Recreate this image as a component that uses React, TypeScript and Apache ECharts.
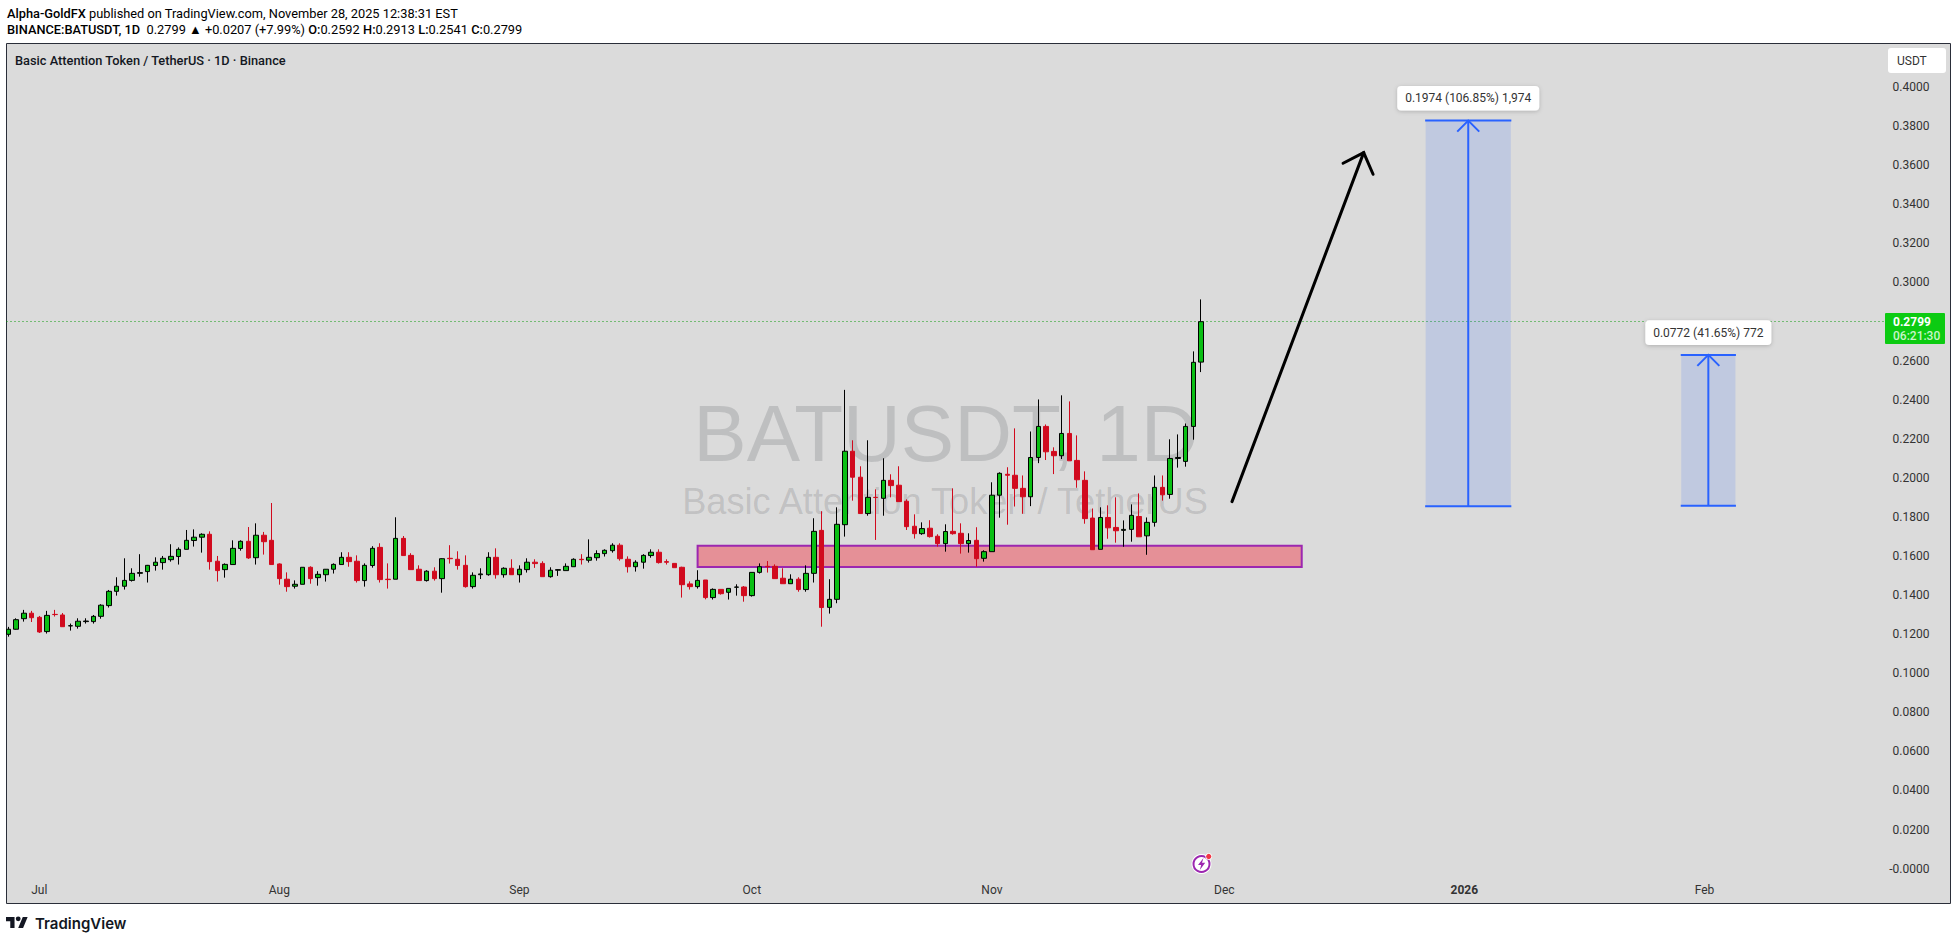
import React, { useEffect, useRef } from "react";
import * as echarts from "echarts";

// [open, close, low, high]
const juneJulyBars = [
[.1199,.1225,.1187,.1237],[.1225,.1274,.1223,.1281],[.1279,.1307,.1264,.1324],[.1307,.1284,.1262,.1319],[.1286,.1211,.1206,.1293],
[.1213,.1296,.1203,.1319],[.1301,.1300,.1290,.1324],[.1298,.1238,.1237,.1308],[.1242,.1243,.1218,.1254],[.1240,.1266,.1228,.1281],
[.1264,.1267,.1254,.1281],[.1264,.1291,.1254,.1298],[.1291,.1348,.1279,.1353],[.1346,.1419,.1336,.1426],[.1419,.1445,.1397,.1491],
[.1445,.1475,.1428,.1588],[.1475,.1511,.1469,.1537],[.1511,.1515,.1494,.1609],[.1520,.1552,.1464,.1554],[.1551,.1568,.1525,.1593],
[.1566,.1588,.1530,.1600],[.1581,.1598,.1571,.1660],[.1597,.1634,.1556,.1644],[.1634,.1680,.1634,.1733],[.1679,.1696,.1648,.1736],
[.1696,.1711,.1617,.1716],[.1711,.1571,.1530,.1726],[.1573,.1525,.1469,.1600],[.1530,.1557,.1489,.1562],[.1556,.1639,.1556,.1680],
[.1638,.1675,.1627,.1680],[.1675,.1590,.1585,.1748],[.1591,.1706,.1556,.1767],[.1706,.1673,.1607,.1723],[.1680,.1556,.1556,.1871],
];
const augustBars = [
[.1559,.1484,.1453,.1562],[.1481,.1443,.1417,.1516],[.1445,.1455,.1433,.1475],[.1455,.1542,.1455,.1542],[.1542,.1484,.1458,.1547],
[.1489,.1506,.1448,.1522],[.1504,.1532,.1469,.1533],[.1532,.1557,.1510,.1562],[.1556,.1593,.1556,.1619],[.1593,.1571,.1545,.1619],
[.1573,.1474,.1464,.1603],[.1474,.1552,.1443,.1562],[.1551,.1639,.1540,.1650],[.1644,.1479,.1464,.1665],[.1481,.1479,.1433,.1562],
[.1481,.1690,.1481,.1798],[.1690,.1602,.1602,.1702],[.1603,.1530,.1530,.1614],[.1532,.1474,.1474,.1552],[.1474,.1522,.1469,.1527],
[.1522,.1484,.1474,.1542],[.1484,.1586,.1412,.1588],[.1588,.1586,.1561,.1655],[.1583,.1551,.1530,.1624],[.1552,.1443,.1438,.1603],
[.1443,.1501,.1433,.1516],[.1504,.1508,.1482,.1537],[.1504,.1593,.1499,.1619],[.1593,.1504,.1484,.1639],[.1504,.1537,.1489,.1542],
[.1537,.1504,.1503,.1583],
];
const septemberBars = [
[.1504,.1532,.1464,.1552],[.1530,.1568,.1515,.1588],[.1568,.1561,.1539,.1583],[.1562,.1494,.1494,.1573],[.1494,.1527,.1489,.1542],
[.1527,.1530,.1498,.1532],[.1525,.1547,.1525,.1562],[.1545,.1583,.1545,.1588],[.1583,.1581,.1556,.1609],[.1578,.1593,.1566,.1685],
[.1591,.1612,.1576,.1629],[.1612,.1629,.1597,.1634],[.1627,.1655,.1617,.1665],[.1655,.1586,.1576,.1665],[.1583,.1545,.1515,.1598],
[.1545,.1568,.1520,.1578],[.1568,.1603,.1535,.1609],[.1602,.1619,.1591,.1634],[.1619,.1566,.1561,.1634],[.1571,.1568,.1556,.1583],
[.1562,.1540,.1540,.1562],[.1542,.1453,.1387,.1545],[.1457,.1443,.1428,.1470],[.1443,.1475,.1433,.1527],[.1477,.1387,.1378,.1477],
[.1387,.1429,.1377,.1434],[.1429,.1407,.1402,.1429],[.1414,.1434,.1377,.1434],[.1440,.1441,.1397,.1455],[.1441,.1397,.1366,.1446],
];
const octoberBars = [
[.1397,.1516,.1392,.1516],[.1516,.1545,.1510,.1562],[.1547,.1545,.1515,.1574],[.1547,.1484,.1484,.1557],[.1486,.1458,.1458,.1537],
[.1458,.1481,.1458,.1506],[.1481,.1428,.1417,.1491],[.1428,.1511,.1417,.1552],[.1511,.1726,.1464,.1793],[.1731,.1336,.1238,.1829],
[.1337,.1378,.1305,.1481],[.1378,.1762,.1358,.1849],[.1760,.2136,.1699,.2450],[.2136,.2003,.1883,.2192],[.2003,.1817,.1817,.2059],
[.1817,.1900,.1806,.2192],[.1900,.1899,.1682,.1941],[.1895,.1987,.1806,.2100],[.1987,.1960,.1900,.2018],[.1962,.1878,.1878,.2059],
[.1880,.1750,.1733,.1890],[.1752,.1714,.1689,.1813],[.1714,.1740,.1708,.1772],[.1742,.1699,.1694,.1783],[.1701,.1663,.1648,.1711],
[.1663,.1725,.1622,.1762],[.1726,.1714,.1709,.1946],[.1716,.1663,.1612,.1767],[.1663,.1679,.1617,.1716],[.1680,.1586,.1545,.1747],
[.1588,.1622,.1571,.1629],
];
const novemberBars = [
[.1622,.1911,.1622,.1977],[.1911,.2023,.1796,.2028],[.2018,.2013,.1760,.2054],[.2013,.1946,.1853,.2253],[.1946,.1903,.1816,.2012],
[.1903,.2104,.1855,.2237],[.2104,.2263,.2075,.2401],[.2263,.2133,.2091,.2273],[.2135,.2113,.2019,.2156],[.2113,.2227,.2096,.2422],
[.2227,.2087,.2087,.2391],[.2089,.1990,.1949,.2217],[.1987,.1791,.1765,.2033],[.1794,.1632,.1632,.1843],[.1634,.1797,.1634,.1849],
[.1797,.1744,.1688,.1859],[.1746,.1729,.1668,.1900],[.1731,.1736,.1647,.1782],[.1736,.1808,.1673,.1864],[.1802,.1698,.1698,.1920],
[.1703,.1772,.1606,.1797],[.1772,.1951,.1750,.2012],[.1951,.1913,.1883,.2012],[.1915,.2099,.1893,.2197],[.2099,.2104,.2052,.2222],
[.2084,.2263,.2057,.2278],[.2263,.2591,.2195,.2647],[.2592,.2799,.2541,.2913],
];

const priceTickLabels = ["-0.0000","0.0200","0.0400","0.0600","0.0800","0.1000","0.1200","0.1400","0.1600","0.1800","0.2000",
  "0.2200","0.2400","0.2600","","0.3000","0.3200","0.3400","0.3600","0.3800","0.4000"];
const monthTickDates: Record<string, string> = {
  "2025-07-01": "Jul", "2025-08-01": "Aug", "2025-09-01": "Sep", "2025-10-01": "Oct",
  "2025-11-01": "Nov", "2025-12-01": "Dec", "2026-01-01": "{b|2026}", "2026-02-01": "Feb",
};
// bar index from, bar index to, price low, price high
const supportZones = [[89, 167, 0.1543, 0.1652]];
const targets = [[183, 194, 0.1854, 0.3828], [216, 223, 0.1857, 0.2629]];
const targetLabels = ["0.1974 (106.85%) 1,974", "0.0772 (41.65%) 772"];
const arrowPath = [[158, 175, 0.1878, 0.3664]];
const lastPrice = [[0, 243, 0.2799, 0.2799]];

const BAR_COUNT = 251;
const startDay = Date.UTC(2025, 5, 27);
const categories: string[] = [];
for (let i = 0; i < BAR_COUNT; i++) categories.push(new Date(startDay + i * 86400000).toISOString().slice(0, 10));

const UI = "Roboto, sans-serif";
const INK = "#131722";
const BLUE = "#2962ff";
const TEAL = "#26a69a";

echarts.graphic.registerShape("tvlogo", echarts.graphic.extendPath(
  "M14 22H7V11H0V4h14v18zM28 22h-8l7.5-18h8L28 22zM24 7a4 4 0 1 1-8 0a4 4 0 1 1 8 0z", {}) as any);

export default function App() {
  const ref = useRef<HTMLDivElement>(null);
  useEffect(() => {
    document.body.style.margin = "0";
    document.body.style.background = "#fff";
    const chart = echarts.init(ref.current!, undefined, { renderer: "svg" });
    const bars = [...juneJulyBars, ...augustBars, ...septemberBars, ...octoberBars, ...novemberBars];
    const headRich = {
      b: { color: INK, fontWeight: 500, fontSize: 12.8, fontFamily: UI },
      t: { color: TEAL, fontSize: 12.8, fontFamily: UI },
      n: { color: INK, fontSize: 12.8, fontFamily: UI },
    };
    chart.setOption({
      animation: false,
      grid: { left: 4.43, top: 47.92, width: 1944, height: 820.68 },
      xAxis: {
        type: "category", data: categories, boundaryGap: true,
        axisLine: { show: false }, axisTick: { show: false }, splitLine: { show: false },
        axisLabel: {
          interval: (_i: number, v: string) => v in monthTickDates,
          formatter: (v: string) => monthTickDates[v] ?? "",
          margin: 15, color: "#333", fontFamily: UI, fontSize: 12,
          rich: { b: { fontWeight: 700, color: "#333", fontFamily: UI, fontSize: 12 } },
        },
      },
      yAxis: {
        type: "value", position: "right", min: 0, max: 0.42, interval: 0.02,
        axisLine: { show: false }, axisTick: { show: false }, splitLine: { show: false },
        axisLabel: {
          inside: true, margin: 19, color: "#333", fontFamily: UI, fontSize: 12,
          formatter: (v: number) => priceTickLabels[Math.round(v / 0.02)] ?? "",
        },
      },
      graphic: [
        { type: "rect", z: -5, shape: { x: 6.5, y: 43.5, width: 1944, height: 860 }, style: { fill: "#dbdbdb", stroke: "#2a2e39", lineWidth: 1 } },
        { type: "text", z: -4, style: { x: 946, y: 433, text: "BATUSDT, 1D", align: "center", verticalAlign: "middle", font: "80px 'Liberation Sans'", fill: "rgba(60,65,70,0.18)" } },
        { type: "text", z: -4, style: { x: 945, y: 501, text: "Basic Attention Token / TetherUS", align: "center", verticalAlign: "middle", font: "36.2px 'Liberation Sans'", fill: "rgba(60,65,70,0.18)" } },
        { type: "text", style: { x: 7, y: 13, verticalAlign: "middle", text: "{b|Alpha-GoldFX}{n| published on TradingView.com, November 28, 2025 12:38:31 EST}", rich: headRich } },
        { type: "text", style: { x: 7, y: 29.5, verticalAlign: "middle", text: "{b|BINANCE:BATUSDT, 1D}{n|  0.2799 }{t|▲}{n| +0.0207 (+7.99%) }{b|O:}{t|0.2592} {b|H:}{t|0.2913} {b|L:}{t|0.2541} {b|C:}{t|0.2799}", rich: headRich } },
        { type: "text", style: { x: 15, y: 60.5, verticalAlign: "middle", text: "Basic Attention Token / TetherUS · 1D · Binance", font: `500 12.8px ${UI}`, fill: INK } },
        { type: "rect", shape: { x: 1888, y: 48, width: 58, height: 25, r: 3 }, style: { fill: "#fff" } },
        { type: "text", style: { x: 1897, y: 61, verticalAlign: "middle", text: "USDT", font: `12px ${UI}`, fill: "#333" } },
        { type: "rect", shape: { x: 1885, y: 313, width: 60, height: 31, r: 1 }, style: { fill: "#0ccb12" } },
        { type: "text", style: { x: 1893, y: 321.5, verticalAlign: "middle", text: "0.2799", font: `700 12px ${UI}`, fill: "#fff" } },
        { type: "text", style: { x: 1893, y: 335.5, verticalAlign: "middle", text: "06:21:30", font: `500 12px ${UI}`, fill: "#c8f5c8" } },
        { type: "circle", shape: { cx: 1201.5, cy: 864, r: 10 }, style: { fill: "#fff" } },
        { type: "circle", shape: { cx: 1201.5, cy: 864, r: 8 }, style: { fill: "none", stroke: "#9c27b0", lineWidth: 2 } },
        { type: "polygon", shape: { points: [[1203.5, 858], [1198, 865], [1201.2, 865], [1199.8, 870], [1205.2, 862.8], [1202, 862.8]] }, style: { fill: "#9c27b0" } },
        { type: "circle", shape: { cx: 1208.7, cy: 856.5, r: 3.4 }, style: { fill: "#fff" } },
        { type: "circle", shape: { cx: 1208.7, cy: 856.5, r: 2.6 }, style: { fill: "#f23645" } },
        { type: "tvlogo", x: 6, y: 914.6, scaleX: 0.61, scaleY: 0.61, style: { fill: "#131722" } },
        { type: "text", style: { x: 35, y: 923, verticalAlign: "middle", text: "TradingView", font: "600 15px Inter, sans-serif", fill: "#131722" } },
      ],
      series: [
        {
          type: "custom", z: 1, clip: false, silent: true, data: lastPrice, encode: { x: [0, 1], y: [2, 3] },
          renderItem: (_p: any, api: any) => {
            const a = api.coord([api.value(0), api.value(2)]);
            return { type: "line", shape: { x1: 6.5, y1: Math.round(a[1]) - 0.5, x2: 1885, y2: Math.round(a[1]) - 0.5 }, style: { stroke: "#0a9a0a", lineWidth: 1, lineDash: [1, 3] } };
          },
        },
        {
          type: "custom", z: 1, clip: false, silent: true, data: supportZones, encode: { x: [0, 1], y: [2, 3] },
          renderItem: (_p: any, api: any) => {
            const a = api.coord([api.value(0), api.value(3)]);
            const b = api.coord([api.value(1), api.value(2)]);
            return { type: "rect", shape: { x: a[0], y: a[1], width: b[0] - a[0], height: b[1] - a[1] }, style: { fill: "rgba(242,54,69,0.45)", stroke: "#9c27b0", lineWidth: 2 } };
          },
        },
        {
          type: "candlestick", z: 2, data: bars, barWidth: 5,
          itemStyle: { color: "#0abf14", color0: "#d10a1e", borderColor: "#000", borderColor0: "#d10a1e", borderWidth: 1 },
        },
        {
          type: "custom", z: 3, clip: false, silent: true, data: targets, encode: { x: [0, 1], y: [2, 3] },
          renderItem: (p: any, api: any) => {
            const a = api.coord([api.value(0), api.value(3)]);
            const b = api.coord([api.value(1), api.value(2)]);
            const cx = (a[0] + b[0]) / 2;
            const label = targetLabels[p.dataIndex];
            const w = p.dataIndex === 0 ? 142 : 126;
            const st = { stroke: BLUE, lineWidth: 2, fill: "none" };
            return {
              type: "group", children: [
                { type: "rect", shape: { x: a[0], y: a[1], width: b[0] - a[0], height: b[1] - a[1] }, style: { fill: "rgba(41,98,255,0.15)" } },
                { type: "line", shape: { x1: a[0] - 0.5, y1: a[1], x2: b[0] + 0.5, y2: a[1] }, style: st },
                { type: "line", shape: { x1: a[0] - 0.5, y1: b[1], x2: b[0] + 0.5, y2: b[1] }, style: st },
                { type: "line", shape: { x1: cx, y1: a[1], x2: cx, y2: b[1] }, style: st },
                { type: "polyline", shape: { points: [[cx - 11, a[1] + 11], [cx, a[1]], [cx + 11, a[1] + 11]] }, style: st },
                { type: "rect", shape: { x: cx - w / 2, y: a[1] - 34.7, width: w, height: 24.7, r: 4 }, style: { fill: "#fff", shadowBlur: 4, shadowColor: "rgba(0,0,0,0.2)", shadowOffsetY: 1 } },
                { type: "text", style: { x: cx, y: a[1] - 22.3, text: label, align: "center", verticalAlign: "middle", font: `12px ${UI}`, fill: "#333" } },
              ],
            };
          },
        },
        {
          type: "custom", z: 4, clip: false, silent: true, data: arrowPath, encode: { x: [0, 1], y: [2, 3] },
          renderItem: (_p: any, api: any) => {
            const a = api.coord([api.value(0), api.value(2)]);
            const b = api.coord([api.value(1), api.value(3)]);
            const st = { stroke: "#000", lineWidth: 3, fill: "none", lineCap: "round" };
            return {
              type: "group", children: [
                { type: "line", shape: { x1: a[0], y1: a[1], x2: b[0], y2: b[1] }, style: st },
                { type: "polyline", shape: { points: [[b[0] - 20.6, b[1] + 10.6], [b[0], b[1]], [b[0] + 9.4, b[1] + 21.6]] }, style: st },
              ],
            };
          },
        },
      ],
    });
    return () => chart.dispose();
  }, []);
  return <div ref={ref} style={{ position: "absolute", left: 0, top: 0, width: 1957, height: 941 }} />;
}
